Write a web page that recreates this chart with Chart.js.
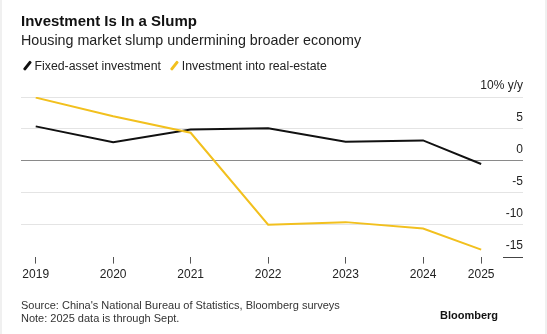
<!DOCTYPE html>
<html>
<head>
<meta charset="utf-8">
<script src="https://cdn.jsdelivr.net/npm/chart.js@4"></script>
<style>
  body { margin: 0; background: #fff; }
  #wrap { position: relative; width: 547px; height: 334px; overflow: hidden;
          font-family: "Liberation Sans", Arial, sans-serif; color: #111;
          border-left: 2px solid #f0f0f0; border-right: 2px solid #f0f0f0; box-sizing: border-box; }
  #chart { position: absolute; left: 0; top: 0; }
  .txt { position: absolute; white-space: nowrap; }
  #title { left: 19px; top: 12px; font-size: 15px; font-weight: bold; }
  #sub { left: 19px; top: 32px; font-size: 14.3px; color: #222; }
  #legend { left: 19px; top: 59px; font-size: 12.3px; color: #222; }
  .sw { display: inline-block; width: 2.5px; height: 11px; transform: rotate(38deg);
        vertical-align: -1px; margin: 0 6px 0 5px; border-radius: 1px; }
  #src { left: 19px; top: 299px; font-size: 11px; line-height: 13px; color: #333; }
  #brand { right: 47px; top: 309px; font-size: 11px; font-weight: bold; }
</style>
</head>
<body>
<div id="wrap">
  <canvas id="chart" width="543" height="334"></canvas>
  <div class="txt" id="title">Investment Is In a Slump</div>
  <div class="txt" id="sub">Housing market slump undermining broader economy</div>
  <div class="txt" id="legend"><span class="sw" style="background:#111"></span>Fixed-asset investment <span class="sw" style="background:#f2c01e;margin-left:9px"></span>Investment into real-estate</div>
  <div class="txt" id="src">Source: China's National Bureau of Statistics, Bloomberg surveys<br>Note: 2025 data is through Sept.</div>
  <div class="txt" id="brand">Bloomberg</div>
</div>
<script>
// year positions (2025 is Jan-Sept, so it sits at three quarters of the year)
var years = [2019, 2020, 2021, 2022, 2023, 2024, 2024.75];
var yearLabels = ["2019", "2020", "2021", "2022", "2023", "2024", "2025"];
var fixedAsset = [5.4, 2.9, 4.9, 5.1, 3.0, 3.2, -0.5];
var realEstate = [9.9, 7.0, 4.4, -10.0, -9.6, -10.6, -13.9];
var yTicks = [10, 5, 0, -5, -10, -15];

function pts(vals) {
  return vals.map(function (v, i) { return { x: years[i], y: v }; });
}

// short rule under the bottom "-15" label
var bottomRule = {
  id: "bottomRule",
  afterDraw: function (chart) {
    var y = chart.scales.y.getPixelForValue(-15);
    var ctx = chart.ctx;
    ctx.save();
    ctx.strokeStyle = "#444";
    ctx.lineWidth = 1;
    ctx.beginPath();
    ctx.moveTo(chart.chartArea.right - 20, Math.round(y) + 0.5);
    ctx.lineTo(chart.chartArea.right, Math.round(y) + 0.5);
    ctx.stroke();
    ctx.restore();
  }
};

var ctx = document.getElementById("chart").getContext("2d");
var myChart = new Chart(ctx, {
  type: "line",
  data: {
    datasets: [{
        label: "Investment into real-estate",
        data: pts(realEstate),
        borderColor: "#f2c01e",
        borderWidth: 2,
        pointRadius: 0,
        tension: 0
      },
      {
        label: "Fixed-asset investment",
        data: pts(fixedAsset),
        borderColor: "#111",
        borderWidth: 2,
        pointRadius: 0,
        tension: 0
      }
    ]
  },
  options: {
    responsive: false,
    animation: false,
    layout: { padding: { left: 19, right: 22, top: 97, bottom: 48 } },
    plugins: { legend: { display: false }, tooltip: { enabled: false } },
    scales: {
      x: {
        type: "linear",
        min: 2018.81,
        max: 2025.29,
        afterBuildTicks: function (axis) {
          axis.ticks = years.map(function (v) { return { value: v }; });
        },
        border: { display: false },
        grid: { drawOnChartArea: false, tickLength: 7, color: "#555" },
        ticks: {
          padding: 4,
          color: "#222",
          font: { family: "Liberation Sans", size: 12 },
          callback: function (v) { return yearLabels[years.indexOf(v)]; }
        }
      },
      y: {
        position: "right",
        min: -15,
        max: 10,
        afterBuildTicks: function (axis) {
          axis.ticks = yTicks.map(function (v) { return { value: v }; });
        },
        border: { display: false },
        grid: {
          drawTicks: false,
          color: function (c) {
            if (c.tick.value === 0) return "#8a8a8a";
            if (c.tick.value === -15) return "rgba(0,0,0,0)";
            return "#e4e4e4";
          }
        },
        ticks: {
          mirror: true,
          padding: 0,
          labelOffset: -11,
          color: "#222",
          font: { family: "Liberation Sans", size: 12 },
          callback: function (v) { return v === 10 ? "10% y/y" : v; }
        }
      }
    }
  },
  plugins: [bottomRule]
});
</script>
</body>
</html>
